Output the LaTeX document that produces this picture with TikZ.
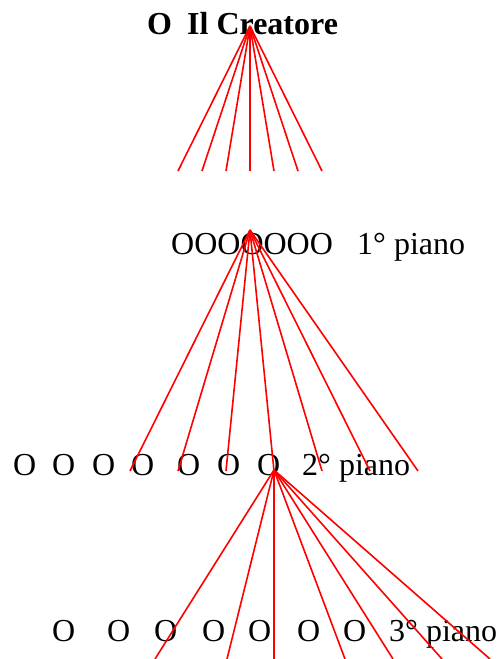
\documentclass[tikz,border=0pt]{standalone}
\usepackage{fontspec}
\setmainfont{Liberation Serif}
\colorlet{filo}{red}
\tikzset{
    ramo/.style={filo,line width=1.6pt},
    lettera/.style={anchor=base west,inner sep=0pt,font=\fontsize{32}{38}\selectfont},
    titolo/.style={lettera,font=\fontsize{32}{38}\selectfont\bfseries}
}

\begin{document}
\begin{tikzpicture}[x=1pt,y=-1pt]
        \useasboundingbox (0,0) rectangle (501,659);
        \node [titolo] (dio) at (147,34) {O};
        \node [titolo] (creatore) at (187,34) {Il Creatore};
        \node [lettera] (primo) at (171,254) {OOOOOOO};
        \node [lettera] (piano1) at (357,254) {1° piano};
        \foreach \x [count=\i] in {13,52,92,131,177,217,257} {
            \node [lettera] (secondo\i) at (\x,475) {O};
        }
        \node [lettera] (piano2) at (302,475) {2° piano};
        \foreach \x [count=\i] in {52,107,154,202,248,297,343} {
            \node [lettera] (terzo\i) at (\x,641) {O};
        }
        \node [lettera] (piano3) at (389,641) {3° piano};
        \coordinate (cima) at (250,26);
        \coordinate (nodo1) at (250,230);
        \coordinate (nodo2) at (274,470);
        \foreach \x [count=\i] in {178,202,...,322} {
            \coordinate (a\i) at (\x,171);
            \draw [ramo] (cima) -- (a\i);
        }
        \foreach \x [count=\i] in {130,178,...,418} {
            \coordinate (b\i) at (\x,471);
            \draw [ramo] (nodo1) -- (b\i);
        }
        \foreach \x [count=\i] in {155,227,274,345,393,442,490} {
            \coordinate (c\i) at (\x,659);
            \draw [ramo] (nodo2) -- (c\i);
        }
    \end{tikzpicture}
\end{document}
